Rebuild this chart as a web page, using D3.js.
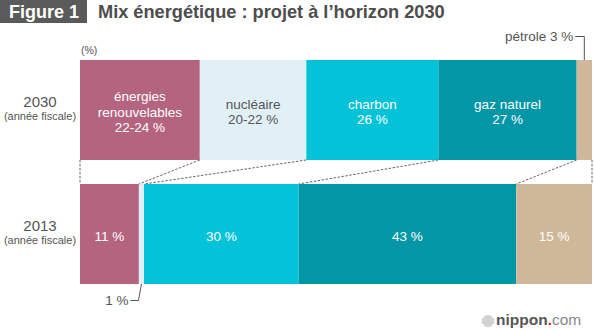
<!DOCTYPE html>
<html>
<head>
<meta charset="utf-8">
<script src="https://cdn.jsdelivr.net/npm/d3@7"></script>
<style>
  body { margin: 0; background: #fff; }
  svg { display: block; font-family: "Liberation Sans", Arial, sans-serif; }
</style>
</head>
<body>
<svg id="chart" width="594" height="330"></svg>
<script>
// data
const years = ['2030', '2013'];
const sources = ['renouvelables', 'nucleaire', 'charbon', 'gaz', 'petrole'];
const values2030 = [23.4, 20.8, 25.8, 27, 3];
const values2013 = [11.5, 1, 30.2, 42.5, 14.8];
const labels2030 = [['énergies', 'renouvelables', '22-24 %'], ['nucléaire', '20-22 %'], ['charbon', '26 %'], ['gaz naturel', '27 %'], []];
const labels2013 = [['11 %'], [], ['30 %'], ['43 %'], ['15 %']];
const colors = ['#b5647f', '#e1eff7', '#04c2d8', '#0396a6', '#cfb89a'];
const textColors = ['#fff', '#555', '#fff', '#fff', '#fff'];

const svg = d3.select('#chart');

const x = d3.scaleLinear().domain([0, 100]).range([80, 592]);
const y = d3.scaleBand().domain(years).range([60, 284]).paddingInner(24 / 124);

// stack the values into segments
const stack = (vals) => {
    let acc = 0;
    return vals.map((v, i) => {
        const s = { key: sources[i], x0: acc, x1: acc + v, i };
        acc += v;
        return s;
    });
};
const rows = { '2030': stack(values2030), '2013': stack(values2013) };
const rowLabels = { '2030': labels2030, '2013': labels2013 };

// title
svg.append('rect').attr('x', 0).attr('y', 0).attr('width', 87).attr('height', 23).attr('fill', '#5a5a5a');
svg.append('text').attr('x', 9).attr('y', 18).attr('fill', '#fff')
    .attr('font-size', 18).attr('font-weight', 'bold').text('Figure 1');
svg.append('text').attr('x', 98).attr('y', 18).attr('fill', '#4d4d4d')
    .attr('font-size', 18.2).attr('font-weight', 'bold').text('Mix énergétique : projet à l’horizon 2030');

svg.append('text').attr('x', 81).attr('y', 54).attr('fill', '#555').attr('font-size', 10.5).text('(%)');

// bars
years.forEach((yr) => {
    const g = svg.append('g');
    g.selectAll('rect').data(rows[yr]).join('rect')
        .attr('x', (d) => x(d.x0))
        .attr('y', y(yr))
        .attr('width', (d) => x(d.x1) - x(d.x0))
        .attr('height', y.bandwidth())
        .attr('fill', (d) => colors[d.i]);

    g.selectAll('text.seg').data(rows[yr]).join('text')
        .attr('class', 'seg')
        .attr('text-anchor', 'middle')
        .attr('fill', (d) => textColors[d.i])
        .attr('font-size', 13.5)
        .each(function (d) {
            const lines = rowLabels[yr][d.i];
            const cx = (x(d.x0) + x(d.x1)) / 2;
            const cy = y(yr) + y.bandwidth() / 2 + 2;
            const lh = 15.5;
            d3.select(this).selectAll('tspan').data(lines).join('tspan')
                .attr('x', cx)
                .attr('y', (l, j) => cy + (j - (lines.length - 1) / 2) * lh + 4.5)
                .text((l) => l);
        });

    // year labels
    const cy = y(yr) + y.bandwidth() / 2;
    svg.append('text').attr('x', 40).attr('y', cy - 3).attr('text-anchor', 'middle')
        .attr('fill', '#555').attr('font-size', 15).text(yr);
    svg.append('text').attr('x', 40).attr('y', cy + 10).attr('text-anchor', 'middle')
        .attr('fill', '#555').attr('font-size', 11).text('(année fiscale)');
});

// dashed connectors between the two bars
const edges2030 = [0].concat(rows['2030'].map((d) => d.x1));
const edges2013 = [0].concat(rows['2013'].map((d) => d.x1));
svg.append('g').selectAll('line').data(edges2030).join('line')
    .attr('x1', (d) => x(d))
    .attr('y1', y('2030') + y.bandwidth())
    .attr('x2', (d, i) => x(edges2013[i]))
    .attr('y2', y('2013'))
    .attr('stroke', '#666')
    .attr('stroke-width', 1)
    .attr('stroke-dasharray', '2.5,1.5');

// call-out for pétrole 3 %
const oil = rows['2030'][4];
const oilX = (x(oil.x0) + x(oil.x1)) / 2;
svg.append('path')
    .attr('d', `M${oilX - 9},36.5H${oilX}V${y('2030')}`)
    .attr('fill', 'none').attr('stroke', '#555').attr('stroke-width', 1);
svg.append('text').attr('x', oilX - 11).attr('y', 41).attr('text-anchor', 'end')
    .attr('fill', '#555').attr('font-size', 13.5).text('pétrole 3 %');

// call-out for nucléaire 1 %
const nuc = rows['2013'][1];
const nucX = (x(nuc.x0) + x(nuc.x1)) / 2;
const bottom = y('2013') + y.bandwidth();
svg.append('path')
    .attr('d', `M${nucX - 11},300.5H${nucX - 3}L${nucX},${bottom}`)
    .attr('fill', 'none').attr('stroke', '#555').attr('stroke-width', 1);
svg.append('text').attr('x', nucX - 13).attr('y', 305).attr('text-anchor', 'end')
    .attr('fill', '#555').attr('font-size', 13.5).text('1 %');

// nippon.com mark
const logo = svg.append('g').attr('transform', 'translate(488,321)');
d3.range(-5, 6, 2).forEach((dx) => {
    const h = Math.sqrt(36 - dx * dx) * 2;
    logo.append('rect').attr('x', dx - 0.8).attr('y', -h / 2).attr('width', 1.6).attr('height', h).attr('fill', '#c8c8c8');
});
const lt = svg.append('text').attr('x', 496).attr('y', 325).attr('font-size', 15.5);
lt.append('tspan').attr('fill', '#555').attr('font-weight', 'bold').text('nippon');
lt.append('tspan').attr('fill', '#e0212e').attr('font-weight', 'bold').text('.');
lt.append('tspan').attr('fill', '#888').text('com');
</script>
</body>
</html>
